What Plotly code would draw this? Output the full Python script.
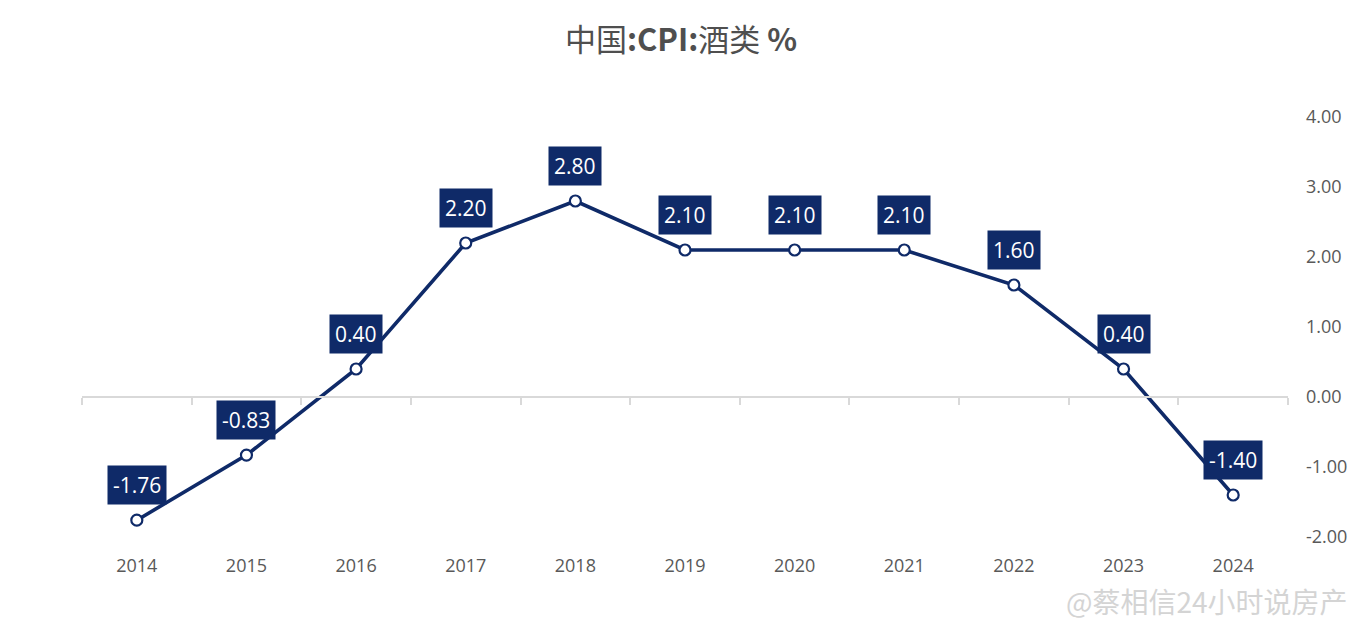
import plotly.graph_objects as go

years = ["2014", "2015", "2016", "2017", "2018", "2019", "2020", "2021", "2022", "2023", "2024"]
values = [-1.76, -0.83, 0.40, 2.20, 2.80, 2.10, 2.10, 2.10, 1.60, 0.40, -1.40]
y_ticks = [-2, -1, 0, 1, 2, 3, 4]
y_tick_labels = ["-2.00", "-1.00", "0.00", "1.00", "2.00", "3.00", "4.00"]

NAVY = "#0f2a68"
GRAY = "#595959"
FONT = "Open Sans, Noto Sans CJK SC, sans-serif"

fig = go.Figure()

# invisible trace that carries the zero-line category axis
fig.add_trace(go.Scatter(x=years, y=values, xaxis="x2", mode="lines",
                         line=dict(width=0), opacity=0, showlegend=False,
                         hoverinfo="skip"))

fig.add_trace(go.Scatter(
    x=years, y=values, mode="lines+markers",
    line=dict(color=NAVY, width=3.6),
    marker=dict(symbol="circle", size=11, color="white",
                line=dict(color=NAVY, width=2.2)),
    showlegend=False,
))

for i, v in enumerate(values):
    fig.add_annotation(
        x=i, y=v, xref="x", yref="y", text=f"{v:.2f}", showarrow=False,
        yshift=35, bgcolor=NAVY, borderpad=5,
        font=dict(family=FONT, size=21, color="white"),
    )

fig.add_annotation(
    x=1.0514, y=-0.152, xref="paper", yref="paper", xanchor="right",
    yanchor="middle", showarrow=False, text="@蔡相信24小时说房产",
    font=dict(family="Noto Sans CJK SC", size=28, color="#d4d4d4"),
)

fig.update_layout(
    width=1346, height=614,
    margin=dict(l=74, r=66, t=109, b=85, autoexpand=False),
    paper_bgcolor="white", plot_bgcolor="white",
    title=dict(text="中国<b>:CPI:</b>酒类 <b>%</b>", x=0.5, xanchor="center",
               y=0.948, yanchor="middle",
               font=dict(family="Noto Sans CJK SC", size=31, color="#4f4f4f")),
    xaxis=dict(type="category", categoryorder="array", categoryarray=years,
               range=[-0.5, len(years) - 0.5], showgrid=False, showline=False,
               zeroline=False, ticks="", ticklabelstandoff=16, automargin=False,
               tickfont=dict(family=FONT, size=18, color=GRAY)),
    xaxis2=dict(type="category", categoryorder="array", categoryarray=years,
                overlaying="x", anchor="free", position=1 / 3,
                range=[-0.5, len(years) - 0.5], showgrid=False,
                showline=True, linecolor="#d9d9d9", linewidth=1.5,
                ticks="outside", tickson="boundaries", ticklen=7,
                tickcolor="#d9d9d9", tickwidth=1.5, showticklabels=False,
                automargin=False),
    yaxis=dict(side="right", range=[-2, 4], tickvals=y_ticks,
               ticktext=y_tick_labels, showgrid=False, zeroline=False,
               showline=False, ticks="", ticklabelstandoff=17, automargin=False,
               tickfont=dict(family=FONT, size=18, color=GRAY)),
)

fig.write_html("out.html")
